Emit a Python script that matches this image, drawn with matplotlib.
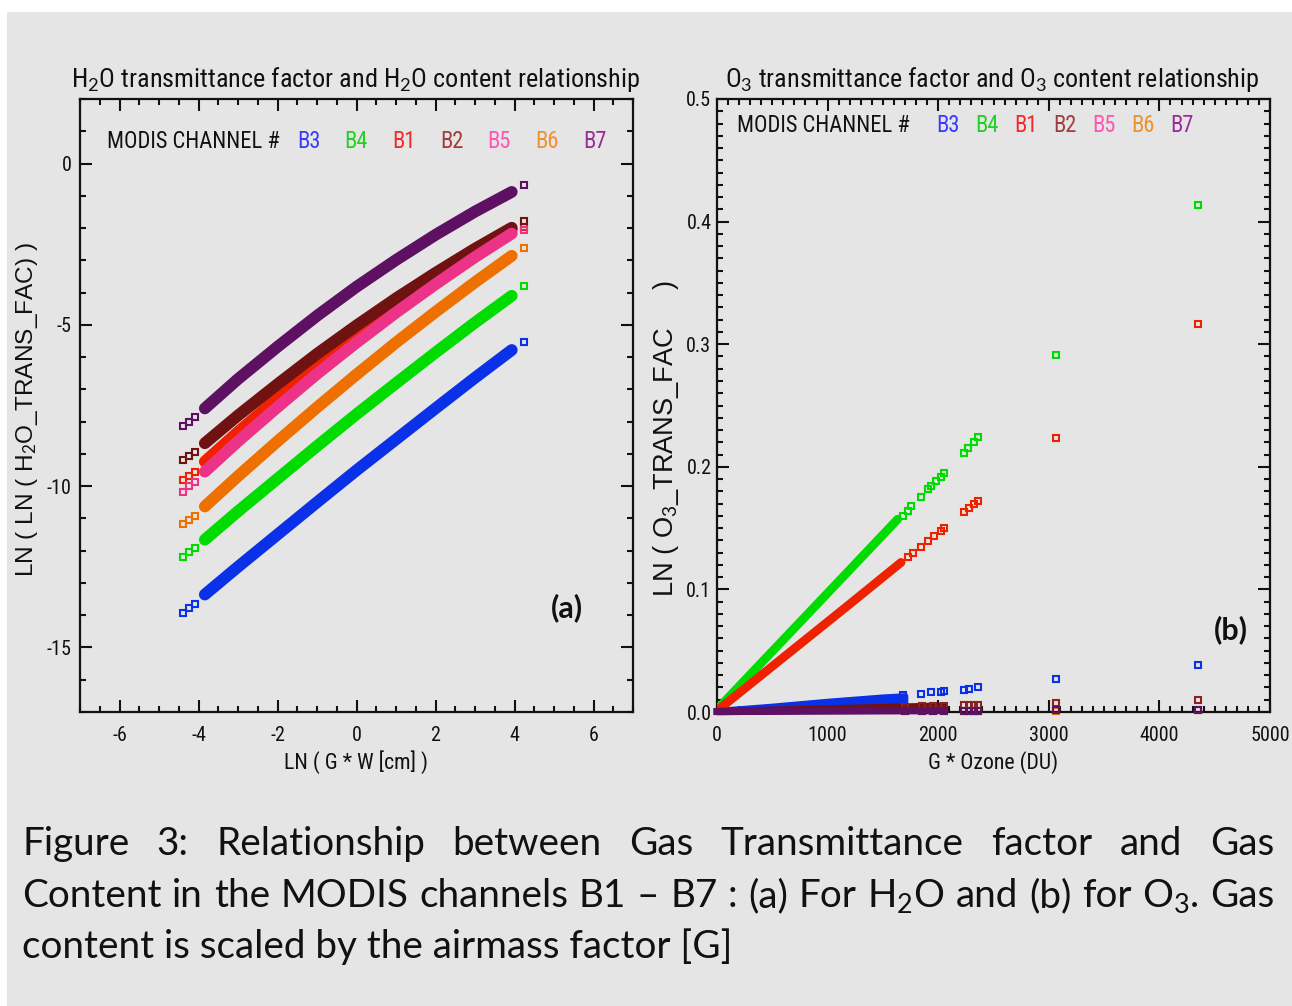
import matplotlib
matplotlib.use('Agg')
import matplotlib.pyplot as plt
import matplotlib.font_manager as fm
from matplotlib.patches import Rectangle
from matplotlib.ticker import MultipleLocator, FormatStrFormatter

W, H = 1292, 1006
BG = '#e5e5e5'


def pick_narrow():
    prefs = ['Liberation Sans Narrow', 'Arial Narrow', 'Roboto Condensed', 'Open Sans Condensed',
             'Noto Sans Condensed', 'DejaVu Sans Condensed']
    found = []
    for f in fm.fontManager.ttflist:
        if f.style != 'normal' or f.weight not in (400, 'normal', 'regular', 'book'):
            continue
        if 'Narrow' in f.name or 'Condensed' in f.name or f.stretch in ('condensed', 'semi-condensed'):
            found.append((f.name, f.stretch))
    for p in prefs:
        for name, st in found:
            if name == p:
                return {'family': name}
    for base in ['Liberation Sans', 'Roboto', 'Noto Sans', 'DejaVu Sans', 'Open Sans']:
        for name, st in found:
            if name == base and st in ('condensed', 'semi-condensed'):
                return {'family': name, 'stretch': st}
    return {'family': 'Liberation Sans'}


NARROW = pick_narrow()
SANS = 'Liberation Sans'
CAP = 'Lato'

plt.rcParams['axes.unicode_minus'] = False
plt.rcParams['mathtext.fontset'] = 'custom'
plt.rcParams['mathtext.rm'] = CAP
plt.rcParams['mathtext.it'] = CAP + ':italic'
plt.rcParams['mathtext.bf'] = CAP + ':bold'
plt.rcParams['mathtext.default'] = 'rm'

channels = ['B3', 'B4', 'B1', 'B2', 'B5', 'B6', 'B7']
colors = ['#0a30e8', '#00dc00', '#ee2200', '#701212', '#ec3388', '#ee7000', '#5e1062']
label_colors = ['#3a3aff', '#22d022', '#ee2a2a', '#a03c3c', '#ff55b0', '#f0902e', '#9a2a9a']

# (a) H2O : LN(G*W) vs LN(LN(trans factor)), dense band + sparse ends
h2o_band_x = [-3.84, -3.0, -2.0, -1.0, 0.0, 1.0, 2.0, 3.0, 3.93]
h2o_b3 = [-13.36, -12.50, -11.50, -10.50, -9.51, -8.55, -7.59, -6.64, -5.78]
h2o_b4 = [-11.66, -10.78, -9.77, -8.76, -7.77, -6.81, -5.86, -4.93, -4.10]
h2o_b1 = [-9.24, -8.32, -7.28, -6.27, -5.32, -4.41, -3.56, -2.76, -2.05]
h2o_b2 = [-8.67, -7.81, -6.84, -5.90, -5.02, -4.18, -3.39, -2.64, -1.99]
h2o_b5 = [-9.55, -8.61, -7.55, -6.52, -5.55, -4.62, -3.74, -2.90, -2.17]
h2o_b6 = [-10.63, -9.69, -8.61, -7.56, -6.54, -5.55, -4.60, -3.68, -2.86]
h2o_b7 = [-7.59, -6.68, -5.68, -4.72, -3.82, -2.99, -2.21, -1.49, -0.88]

h2o_end_x = [-4.38, -4.24, -4.09, 4.24]
h2o_end_b3 = [-13.93, -13.78, -13.65, -5.52]
h2o_end_b4 = [-12.21, -12.04, -11.92, -3.79]
h2o_end_b1 = [-9.80, -9.70, -9.57, -1.96]
h2o_end_b2 = [-9.18, -9.05, -8.93, -1.79]
h2o_end_b5 = [-10.17, -10.01, -9.88, -2.06]
h2o_end_b6 = [-11.18, -11.04, -10.91, -2.61]
h2o_end_b7 = [-8.15, -8.02, -7.87, -0.67]

# (b) O3 : G*Ozone vs LN(trans factor)
b4_o3_band_x = [0, 400, 800, 1200, 1634]
b4_o3_band_y = [0.002, 0.040, 0.078, 0.116, 0.1573]
b1_o3_band_x = [0, 400, 800, 1200, 1664]
b1_o3_band_y = [0.001, 0.030, 0.059, 0.088, 0.1220]
b3_o3_band_x = [0, 500, 1000, 1500, 1700]
b3_o3_band_lo = [0.0, 0.0005, 0.0015, 0.0030, 0.0045]
b3_o3_band_hi = [0.0015, 0.0050, 0.0090, 0.0125, 0.0135]
low_band_x = [0, 1000, 2055]
b2_o3_band_y = [0.0005, 0.0027, 0.0050]
b7_o3_band_y = [0.0003, 0.0006, 0.0010]

b4_o3_x = [1679, 1724, 1754, 1844, 1905, 1935, 1980, 2025, 2055, 2236, 2266, 2326, 2357, 3065, 4352]
b4_o3_y = [0.1600, 0.1641, 0.1682, 0.1755, 0.1818, 0.1845, 0.1885, 0.1918, 0.1953,
           0.2116, 0.2156, 0.2205, 0.2244, 0.2911, 0.4133]
b1_o3_x = [1724, 1770, 1844, 1905, 1965, 2025, 2055, 2236, 2281, 2326, 2357, 3065, 4352]
b1_o3_y = [0.1261, 0.1293, 0.1348, 0.1397, 0.1438, 0.1478, 0.1500,
           0.1635, 0.1668, 0.1695, 0.1722, 0.2233, 0.3166]
b3_o3_x = [1679, 1844, 1935, 2025, 2055, 2236, 2281, 2357, 3065, 4352]
b3_o3_y = [0.0135, 0.0150, 0.0160, 0.0166, 0.0172, 0.0183, 0.0186, 0.0200, 0.0268, 0.0385]
low_o3_x = [1700, 1850, 1950, 2055, 2236, 2281, 2326, 2357, 3065, 4352]
b2_o3_y = [0.0043, 0.0046, 0.0048, 0.0050, 0.0055, 0.0056, 0.0057, 0.0058, 0.0075, 0.0095]
b5_o3_y = [0.0007, 0.0007, 0.0008, 0.0008, 0.0009, 0.0009, 0.0009, 0.0009, 0.0011, 0.0014]
b6_o3_y = [0.0008, 0.0008, 0.0009, 0.0009, 0.0010, 0.0010, 0.0010, 0.0010, 0.0012, 0.0016]
b7_o3_y = [0.0009, 0.0009, 0.0010, 0.0010, 0.0011, 0.0011, 0.0011, 0.0011, 0.0013, 0.0017]


def fx(px):
    return px / W


def fy(py):
    return 1 - py / H


fig = plt.figure(figsize=(W / 100, H / 100), dpi=100, facecolor='white')
fig.patches.append(Rectangle((fx(7), 0), 1, fy(12), transform=fig.transFigure,
                             facecolor=BG, edgecolor='none', zorder=-10))
renderer = fig.canvas.get_renderer()


def fit(t, target, dim='w'):
    bb = t.get_window_extent(renderer)
    cur = bb.width if dim == 'w' else bb.height
    t.set_fontsize(t.get_fontsize() * target / cur)


def hollow(ax, x, y, c, z=3, clip=True, ms=4.8):
    ax.plot(x, y, 's', ms=ms, mfc='none', mec=c, mew=1.5, zorder=z, clip_on=clip)


def style_axes(ax):
    ax.set_facecolor(BG)
    for s in ax.spines.values():
        s.set_linewidth(1.6)
        s.set_color('#111111')
    ax.tick_params(which='both', direction='in', top=True, right=True,
                   width=1.5, color='#111111', labelsize=14.5, labelcolor='#111111')
    ax.tick_params(which='major', length=8.5)
    ax.tick_params(which='minor', length=4.5)
    for lab in ax.get_xticklabels() + ax.get_yticklabels():
        lab.set_fontfamily(NARROW['family'])
        if 'stretch' in NARROW:
            lab.set_fontstretch(NARROW['stretch'])


# ---- panel (a)
ax1 = fig.add_axes([fx(80), fy(712), 553 / W, 613 / H])
h2o_bands = [h2o_b3, h2o_b4, h2o_b1, h2o_b2, h2o_b5, h2o_b6, h2o_b7]
h2o_ends = [h2o_end_b3, h2o_end_b4, h2o_end_b1, h2o_end_b2, h2o_end_b5, h2o_end_b6, h2o_end_b7]
for i in range(len(channels)):
    ax1.plot(h2o_band_x, h2o_bands[i], '-', color=colors[i], lw=8.5,
             solid_capstyle='round', zorder=2 + i)
    hollow(ax1, h2o_end_x, h2o_ends[i], colors[i], z=2 + i, ms=4.3)
ax1.set_xlim(-7, 7)
ax1.set_ylim(-17, 2)
ax1.xaxis.set_major_locator(MultipleLocator(2))
ax1.xaxis.set_minor_locator(MultipleLocator(0.5))
ax1.yaxis.set_major_locator(MultipleLocator(5))
ax1.yaxis.set_minor_locator(MultipleLocator(1))
style_axes(ax1)
ax1.tick_params(axis='x', pad=10)
ax1.tick_params(axis='y', pad=6)

# ---- panel (b)
ax2 = fig.add_axes([fx(717), fy(712), 553 / W, 613 / H])
ax2.fill_between(b3_o3_band_x, b3_o3_band_lo, b3_o3_band_hi, color=colors[0], lw=4,
                 edgecolor=colors[0], zorder=2, clip_on=False)
ax2.plot(b4_o3_band_x, b4_o3_band_y, '-', color=colors[1], lw=6.3, solid_capstyle='round', zorder=3)
ax2.plot(b1_o3_band_x, b1_o3_band_y, '-', color=colors[2], lw=6.3, solid_capstyle='round', zorder=4)
ax2.plot(low_band_x, b2_o3_band_y, '-', color=colors[3], lw=5, zorder=5, clip_on=False)
ax2.plot(low_band_x, b7_o3_band_y, '-', color=colors[6], lw=5, zorder=8, clip_on=False)
hollow(ax2, b3_o3_x, b3_o3_y, colors[0], z=2, clip=False)
hollow(ax2, b4_o3_x, b4_o3_y, colors[1], z=3)
hollow(ax2, b1_o3_x, b1_o3_y, colors[2], z=4)
hollow(ax2, low_o3_x, b2_o3_y, '#8a2222', z=5, clip=False)
hollow(ax2, low_o3_x, b5_o3_y, colors[4], z=6, clip=False)
hollow(ax2, low_o3_x, b6_o3_y, colors[5], z=7, clip=False)
hollow(ax2, low_o3_x, b7_o3_y, colors[6], z=8, clip=False)
ax2.set_xlim(0, 5000)
ax2.set_ylim(0, 0.5)
ax2.xaxis.set_major_locator(MultipleLocator(1000))
ax2.xaxis.set_minor_locator(MultipleLocator(100))
ax2.yaxis.set_major_locator(MultipleLocator(0.1))
ax2.yaxis.set_minor_locator(MultipleLocator(0.01))
ax2.yaxis.set_major_formatter(FormatStrFormatter('%.1f'))
style_axes(ax2)
ax2.tick_params(axis='x', pad=10)
ax2.tick_params(axis='y', pad=4)

# ---- titles, axis labels
nkw = dict(NARROW)
nkw['family'] = [nkw['family'], 'DejaVu Sans']
t = fig.text(fx(356), fy(87), 'H$_2$O transmittance factor and H$_2$O content relationship',
             ha='center', va='baseline', fontsize=20, color='#111111', **nkw)
fit(t, 568)
t = fig.text(fx(992), fy(87), 'O$_3$ transmittance factor and O$_3$ content relationship',
             ha='center', va='baseline', fontsize=20, color='#111111', **nkw)
fit(t, 534)

t = fig.text(fx(356), fy(769), 'LN ( G * W [cm] )', ha='center', va='baseline',
             fontsize=15, color='#111111', **nkw)
fit(t, 145)
t = fig.text(fx(993), fy(769), 'G * Ozone (DU)', ha='center', va='baseline',
             fontsize=15, color='#111111', **nkw)
fit(t, 131)

t = fig.text(fx(27), fy(410), 'LN ( LN ( H$_2$O_TRANS_FAC) )', rotation=90,
             ha='center', va='center', family=SANS, fontsize=15, color='#111111')
fit(t, 336, 'h')
t = fig.text(fx(666), fy(439), 'LN ( O$_3$_TRANS_FAC     )', rotation=90,
             ha='center', va='center', family=SANS, fontsize=15, color='#111111')
fit(t, 318, 'h')

# ---- channel legends
for ax, x0, xb, step, yb in [(ax1, 0.049, 0.392, 0.0863, 0.920),
                             (ax2, 0.037, 0.396, 0.0705, 0.946)]:
    t = ax.text(x0, yb, 'MODIS CHANNEL #', transform=ax.transAxes, ha='left',
                va='baseline', fontsize=15, color='#111111', **nkw)
    fit(t, 173)
    size = t.get_fontsize()
    for i, ch in enumerate(channels):
        ax.text(xb + i * step, yb, ch, transform=ax.transAxes, ha='left', va='baseline',
                fontsize=size, color=label_colors[i], **nkw)

fig.text(fx(567), fy(608), '(a)', ha='center', va='center', family=CAP,
         fontweight='bold', fontsize=22, color='#111111')
fig.text(fx(1231), fy(630), '(b)', ha='center', va='center', family=CAP,
         fontweight='bold', fontsize=22, color='#111111')

# ---- caption (justified lines)
line1 = ['Figure', '3:', 'Relationship', 'between', 'Gas', 'Transmittance', 'factor', 'and', 'Gas']
line2 = ['Content', 'in', 'the', 'MODIS', 'channels', 'B1', '\u2013', 'B7', ':', '(a)', 'For',
         'H$_2$O', 'and', '(b)', 'for', 'O$_3$.', 'Gas']
line3 = 'content is scaled by the airmass factor [G]'

cap_size = 24
t3 = fig.text(fx(22), fy(958), line3, ha='left', va='baseline', family=CAP,
              fontsize=cap_size, color='#111111')
fit(t3, 729)
probe = fig.text(0, 0, ' '.join(line2), family=CAP, fontsize=t3.get_fontsize())
w2 = probe.get_window_extent(renderer).width
probe.remove()
cap_size = t3.get_fontsize() * min(1.0, 1235 / w2)
t3.set_fontsize(cap_size)


def justify(words, py, x0, x1):
    texts = [fig.text(0, fy(py), w, ha='left', va='baseline', family=CAP,
                      fontsize=cap_size, color='#111111') for w in words]
    widths = [tt.get_window_extent(renderer).width for tt in texts]
    gap = (x1 - x0 - sum(widths)) / (len(words) - 1)
    x = x0
    for tt, w in zip(texts, widths):
        tt.set_x(fx(x))
        x += w + gap


justify(line1, 855, 22, 1274)
justify(line2, 907, 22, 1274)

fig.savefig('out.png', dpi=100, facecolor='white')
